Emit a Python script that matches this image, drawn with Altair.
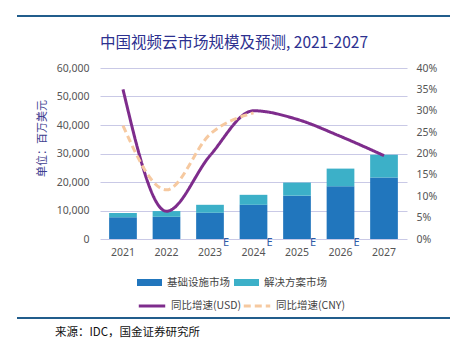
import altair as alt
import pandas as pd

years = ["2021", "2022", "2023", "2024", "2025", "2026", "2027"]
infra = [7600, 7800, 9200, 12000, 15200, 18500, 21600]
solution = [1500, 2000, 2800, 3500, 4600, 6200, 8000]
usd_growth = [0.35, 0.065, 0.195, 0.30, 0.28, 0.24, 0.195]
cny_years = ["2021", "2022", "2023", "2024"]
cny_growth = [0.265, 0.115, 0.245, 0.295]
e_years = ["2023", "2024", "2025", "2026"]
bar_series = ["基础设施市场", "解决方案市场"]
line_series = ["同比增速(USD)", "同比增速(CNY)"]
left_ticks = [0, 10000, 20000, 30000, 40000, 50000, 60000]
right_ticks = [0, 0.05, 0.10, 0.15, 0.20, 0.25, 0.30, 0.35, 0.40]
title_text = "中国视频云市场规模及预测, 2021-2027"
y_title = "单位：百万美元"
source_text = "来源：IDC，国金证券研究所"

FONT = "'Noto Sans', 'Noto Sans CJK SC', sans-serif"
CJK = "'Noto Sans CJK SC', sans-serif"

bars_df = pd.DataFrame(
    [{"year": y, "series": bar_series[0], "value": v, "ord": 0} for y, v in zip(years, infra)]
    + [{"year": y, "series": bar_series[1], "value": v, "ord": 1} for y, v in zip(years, solution)]
)
lines_df = pd.DataFrame(
    [{"year": y, "series": line_series[0], "g": g} for y, g in zip(years, usd_growth)]
    + [{"year": y, "series": line_series[1], "g": g} for y, g in zip(cny_years, cny_growth)]
)
e_df = pd.DataFrame({"year": e_years, "label": ["E"] * len(e_years), "value": [0] * len(e_years)})

x_enc = alt.X(
    "year:N",
    sort=years,
    scale=alt.Scale(paddingInner=0.363, paddingOuter=0.21),
    axis=alt.Axis(title=None, labelAngle=0, domain=False, ticks=False, labelPadding=8,
                  labelFontSize=10.5, labelColor="#555555", labelFont=FONT),
)

bars = alt.Chart(bars_df).mark_bar().encode(
    x=x_enc,
    y=alt.Y(
        "value:Q",
        stack="zero",
        scale=alt.Scale(domain=[0, 60000]),
        axis=alt.Axis(values=left_ticks, format=",.0f", domain=False, ticks=False, labelPadding=11,
                      labelFontSize=10.5, labelColor="#555555", labelFont=FONT,
                      grid=True, gridColor="#c9c9e6", gridWidth=1,
                      title=y_title, titleFont=CJK, titleFontSize=11, titleColor="#3d3d8f",
                      titleFontWeight="normal", titlePadding=9, titleY=70),
    ),
    color=alt.Color(
        "series:N",
        scale=alt.Scale(domain=bar_series, range=["#2176bd", "#3cb0c8"]),
        legend=alt.Legend(title=None, orient="none", legendX=37, legendY=202, direction="horizontal",
                          symbolType="M-1,-0.28L1,-0.28L1,0.28L-1,0.28Z", symbolSize=625,
                          symbolStrokeWidth=0, symbolOpacity=1, columnPadding=4, labelOffset=5,
                          labelFontSize=10.5, labelColor="#444444", labelFont=CJK, padding=0),
    ),
    order=alt.Order("ord:Q"),
)

etext = alt.Chart(e_df).mark_text(
    dx=16, dy=-2, baseline="top", align="center", fontSize=11, color="#2e5aa6", font=FONT
).encode(
    x=alt.X("year:N", sort=years),
    y=alt.Y("value:Q", scale=alt.Scale(domain=[0, 60000]), axis=None),
    text="label:N",
)

line_legend = alt.Legend(title=None, orient="none", legendX=37, legendY=223, direction="horizontal",
                         symbolType="stroke", symbolSize=700, symbolStrokeWidth=3, columnPadding=-8,
                         labelOffset=4, labelFontSize=10.5, labelColor="#444444", labelFont=CJK,
                         padding=0)

lines = alt.Chart(lines_df).mark_line(interpolate="monotone", strokeWidth=3).encode(
    x=alt.X("year:N", sort=years),
    y=alt.Y(
        "g:Q",
        scale=alt.Scale(domain=[0, 0.4]),
        axis=alt.Axis(values=right_ticks, format=".0%", orient="right", domain=False, ticks=False,
                      labelPadding=9, labelFontSize=10.5, labelColor="#555555", labelFont=FONT,
                      grid=False, title=None),
    ),
    stroke=alt.Stroke("series:N", scale=alt.Scale(domain=line_series, range=["#7e2c8c", "#f6c9a0"]),
                      legend=line_legend),
    strokeDash=alt.StrokeDash("series:N", scale=alt.Scale(domain=line_series, range=[[1, 0], [7, 4]]),
                              legend=line_legend),
)

one = pd.DataFrame({"k": [0]})
top_rule = alt.Chart(one).mark_rule(color="#215d8c", strokeWidth=2).encode(
    x=alt.value(-83), x2=alt.value(350), y=alt.value(-52)
)
bottom_rule = alt.Chart(one).mark_rule(color="#215d8c", strokeWidth=2).encode(
    x=alt.value(-83), x2=alt.value(350), y=alt.value(250)
)
title = alt.Chart(pd.DataFrame({"t": [title_text]})).mark_text(
    align="center", baseline="middle", fontSize=15.5, color="#2d3190", font=CJK
).encode(x=alt.value(134), y=alt.value(-25), text="t:N")
source = alt.Chart(pd.DataFrame({"t": [source_text]})).mark_text(
    align="left", baseline="middle", fontSize=11.5, color="#111111", font=CJK
).encode(x=alt.value(-45), y=alt.value(265), text="t:N")

chart = alt.layer(bars, etext, lines, top_rule, bottom_rule, title, source).resolve_scale(
    y="independent"
).properties(
    width=307,
    height=171,
    autosize=alt.AutoSizeParams(type="none"),
    padding={"left": 100, "top": 68, "right": 43, "bottom": 112},
).configure_view(strokeWidth=0)

chart.save("out.html", embed_options={"renderer": "svg", "actions": False})
